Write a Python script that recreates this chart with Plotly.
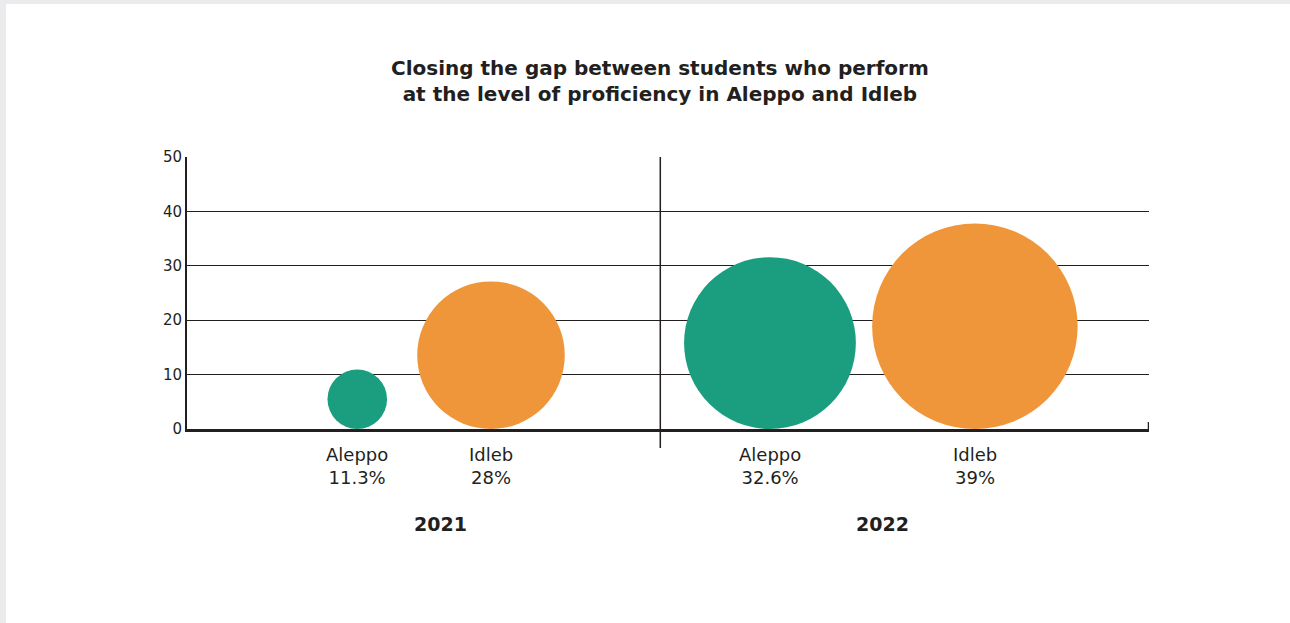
import plotly.graph_objects as go

# ---- data ----
regions = ["Aleppo", "Idleb", "Aleppo", "Idleb"]
years = ["2021", "2021", "2022", "2022"]
values = [11.3, 28, 32.6, 39]
value_labels = ["11.3%", "28%", "32.6%", "39%"]
year_labels = ["2021", "2022"]
colors_by_region = {"Aleppo": "#1b9d80", "Idleb": "#f0963a"}

# ---- layout constants ----
W, H = 1290, 623
ML, MR, MT, MB = 187, 141, 157, 194
PW, PH = W - ML - MR, H - MT - MB
YMAX = 50
px_per_unit = PH / YMAX
size_factor = 5.27  # px diameter per percent
x_pos = [17.7, 31.6, 60.6, 81.9]
year_x = [26.3, 72.25]
divider_x = 49.2
INK = "#231f20"
FONT = "DejaVu Sans"

fig = go.Figure()
for i, r in enumerate(regions):
    d = values[i] * size_factor
    fig.add_trace(go.Scatter(
        x=[x_pos[i]], y=[d / 2 / px_per_unit], mode="markers",
        marker=dict(size=d, color=colors_by_region[r], line=dict(width=0), opacity=1),
        showlegend=False, hoverinfo="skip", cliponaxis=False))

ann = []
for i, r in enumerate(regions):
    ann.append(dict(x=x_pos[i], y=-37 / PH, xref="x", yref="paper",
                    text=f"{r}<br>{value_labels[i]}", showarrow=False,
                    font=dict(family=FONT, size=18, color=INK),
                    yanchor="middle", xanchor="center", align="center"))
for j, yl in enumerate(year_labels):
    ann.append(dict(x=year_x[j], y=(429 - 524) / PH, xref="x", yref="paper",
                    text=f"<b>{yl}</b>", showarrow=False,
                    font=dict(family=FONT, size=19, color=INK),
                    yanchor="middle", xanchor="center"))
ann.append(dict(x=(660 - ML) / PW, y=(429 - 81) / PH, xref="paper", yref="paper",
                text="<b>Closing the gap between students who perform<br>at the level of proficiency in Aleppo and Idleb</b>",
                showarrow=False, font=dict(family=FONT, size=20, color=INK),
                xanchor="center", yanchor="middle", align="center"))

def px_x(p):
    return (p - ML) / PW

def px_y(p):
    return (429 - p) / PH

shapes = [
    dict(type="line", xref="x", yref="paper", x0=divider_x, x1=divider_x,
         y0=px_y(448), y1=1, line=dict(color=INK, width=1.5)),
    dict(type="line", xref="x", yref="paper", x0=100, x1=100,
         y0=0, y1=px_y(422), line=dict(color=INK, width=2.5)),
    dict(type="rect", xref="paper", yref="paper", x0=px_x(0), x1=px_x(W),
         y0=px_y(4), y1=px_y(0), fillcolor="#ebebed", line=dict(width=0), layer="below"),
    dict(type="rect", xref="paper", yref="paper", x0=px_x(0), x1=px_x(6),
         y0=px_y(H), y1=px_y(0), fillcolor="#ebebed", line=dict(width=0), layer="below"),
]

fig.update_layout(
    width=W, height=H,
    margin=dict(l=ML, r=MR, t=MT, b=MB, pad=0),
    paper_bgcolor="white", plot_bgcolor="white",
    annotations=ann, shapes=shapes,
    xaxis=dict(range=[0, 100], showgrid=False, zeroline=False, showticklabels=False,
               ticks="", showline=True, linecolor=INK, linewidth=2.5, fixedrange=True),
    yaxis=dict(range=[0, YMAX], dtick=10, tick0=0, showgrid=True, gridcolor=INK,
               gridwidth=1, zeroline=False, showline=True, linecolor=INK, linewidth=2,
               ticks="", tickfont=dict(family=FONT, size=15, color=INK), fixedrange=True),
)

fig.write_html("out.html", config={"displayModeBar": False},
               post_script="document.body.style.margin='0';document.body.style.overflow='hidden';")
